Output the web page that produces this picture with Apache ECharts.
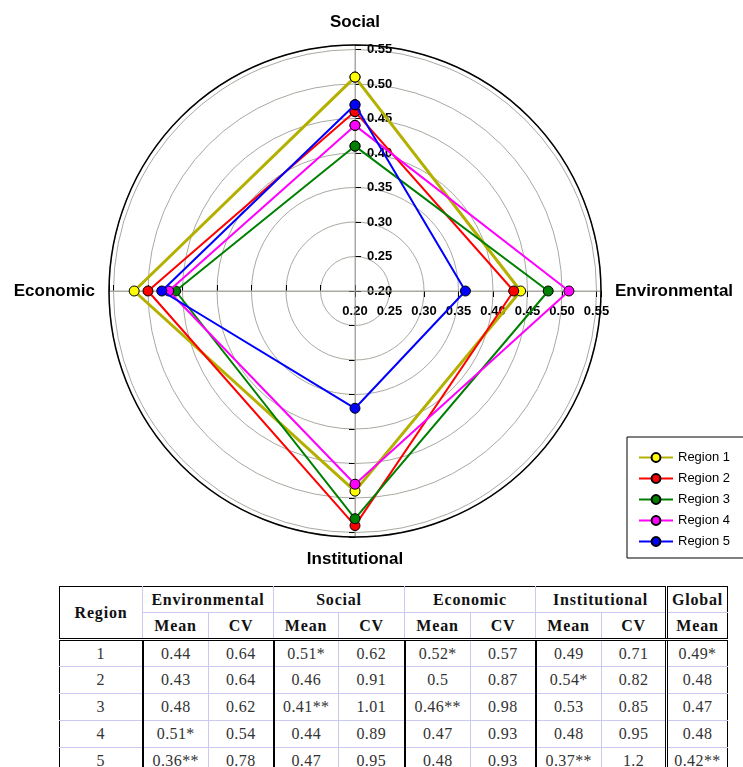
<!DOCTYPE html>
<html>
<head>
<meta charset="utf-8">
<script src="https://cdn.jsdelivr.net/npm/echarts@6/dist/echarts.min.js"></script>
<style>
  html, body { margin: 0; padding: 0; background: #fff; }
  #chart { position: absolute; left: 0; top: 0; width: 743px; height: 586px; }
  #tbl {
    position: absolute; left: 59px; top: 586px;
    border-collapse: collapse; table-layout: fixed;
    font-family: "Liberation Serif", "DejaVu Serif", serif;
    color: #222;
  }
  #tbl td, #tbl th { padding: 0; text-align: center; overflow: hidden; white-space: nowrap; }
  #tbl th { font-weight: bold; font-size: 16px; color: #111; letter-spacing: 0.8px; }
  #tbl td { font-size: 16px; letter-spacing: 0.4px; color: #333; }
</style>
</head>
<body>
<div id="chart"></div>
<table id="tbl"></table>
<script>
// Dimension names, clockwise from the top
const dimensions = ['Social', 'Environmental', 'Institutional', 'Economic'];
const regions = ['Region 1', 'Region 2', 'Region 3', 'Region 4', 'Region 5'];

// Mean and coefficient of variation per region
const envMean  = [0.44, 0.43, 0.48, 0.51, 0.36];
const envCV    = [0.64, 0.64, 0.62, 0.54, 0.78];
const socMean  = [0.51, 0.46, 0.41, 0.44, 0.47];
const socCV    = [0.62, 0.91, 1.01, 0.89, 0.95];
const ecoMean  = [0.52, 0.50, 0.46, 0.47, 0.48];
const ecoCV    = [0.57, 0.87, 0.98, 0.93, 0.93];
const instMean = [0.49, 0.54, 0.53, 0.48, 0.37];
const instCV   = [0.71, 0.82, 0.85, 0.95, 1.2];
const globalMean = [0.49, 0.48, 0.47, 0.48, 0.42];

// Significance marks attached to the means
const envSig    = ['', '', '', '*', '**'];
const socSig    = ['*', '', '**', '', ''];
const ecoSig    = ['*', '', '**', '', ''];
const instSig   = ['', '*', '', '', '**'];
const globalSig = ['*', '', '', '', '**'];

// Radial scale
const radiusMin = 0.20;
const radiusMax = 0.5565;
const radiusStep = 0.05;

const lineColors   = ['#b4b000', '#ff0000', '#008000', '#ff00ff', '#0000ff'];
const markerColors = ['#ffff00', '#ff0000', '#008000', '#ff00ff', '#0000ff'];
const lineWidths   = [3, 2, 2, 2, 2];

const gridGray = '#a9a9a2';
const CX = 355, CY = 291, R = 246;
const sans = '"Liberation Sans", Arial, sans-serif';
const angleStep = 360 / dimensions.length;

function tickLabel(v) {
  const k = Math.round((v - radiusMin) / radiusStep);
  if (Math.abs(radiusMin + k * radiusStep - v) > 1e-6) return '';
  return v.toFixed(2);
}

function angleLabel(v) {
  const k = Math.round(v / angleStep);
  return k < dimensions.length ? dimensions[k] : '';
}

function byDimension(i) {
  return [socMean[i], envMean[i], instMean[i], ecoMean[i]];
}

const series = regions.map((name, i) => {
  const vals = byDimension(i);
  const data = dimensions.map((d, j) => [vals[j], j * angleStep]);
  data.push([vals[0], 0]);
  return {
    name: name,
    type: 'line',
    coordinateSystem: 'polar',
    polarIndex: 0,
    data: data,
    symbol: 'circle',
    symbolSize: 10,
    lineStyle: { color: lineColors[i], width: lineWidths[i] },
    itemStyle: { color: markerColors[i], borderColor: '#000', borderWidth: 1 },
    z: 3 + i
  };
});

function radiusAxisBase(idx) {
  return {
    polarIndex: idx,
    type: 'value',
    min: radiusMin,
    max: radiusMax,
    interval: radiusStep,
    axisLine: { show: true, lineStyle: { color: gridGray, width: 1 } },
    axisTick: { show: true, length: -6, lineStyle: { color: '#000', width: 1 } },
    splitLine: { show: false },
    axisLabel: { show: false }
  };
}

const radiusAxes = [0, 1, 2, 3].map(radiusAxisBase);
radiusAxes[0].splitLine = { show: true, lineStyle: { color: gridGray, width: 1 } };
radiusAxes[0].axisLabel = {
  show: true, margin: -12, align: 'left', verticalAlign: 'middle',
  fontFamily: sans, fontSize: 13, fontWeight: 'bold', color: '#000',
  formatter: tickLabel
};
radiusAxes[1].axisLabel = {
  show: true, margin: -14, align: 'center', verticalAlign: 'top',
  fontFamily: sans, fontSize: 13, fontWeight: 'bold', color: '#000',
  formatter: tickLabel
};

const option = {
  animation: false,
  backgroundColor: '#fff',
  polar: [0, 1, 2, 3].map(() => ({ center: [CX, CY], radius: R })),
  angleAxis: [
    {
      polarIndex: 0,
      type: 'value',
      min: 0,
      max: 360,
      interval: angleStep,
      startAngle: 90,
      clockwise: true,
      axisLine: { show: true, lineStyle: { color: '#000', width: 1.5 } },
      axisTick: { show: false },
      axisLabel: {
        margin: 14, fontFamily: sans, fontSize: 17, fontWeight: 'bold', color: '#000',
        formatter: angleLabel
      },
      splitLine: { show: true, lineStyle: { color: gridGray, width: 1 } },
      z: 2
    },
    { polarIndex: 1, type: 'value', startAngle: 0, show: false },
    { polarIndex: 2, type: 'value', startAngle: 180, show: false },
    { polarIndex: 3, type: 'value', startAngle: 270, show: false }
  ],
  radiusAxis: radiusAxes,
  legend: {
    orient: 'vertical',
    left: 627,
    top: 437,
    itemWidth: 34,
    itemHeight: 11,
    itemGap: 8,
    padding: [14, 60, 10, 11],
    borderColor: '#000',
    borderWidth: 1,
    backgroundColor: '#fff',
    textStyle: { fontFamily: sans, fontSize: 13, color: '#000' },
    data: regions
  },
  series: series
};

const chart = echarts.init(document.getElementById('chart'), null, { renderer: 'canvas' });
chart.setOption(option);

// Summary table built from the same arrays
(function buildTable() {
  const colWidths = [83, 66, 65, 65, 66, 66, 65, 66, 65, 61];
  const lav = '1px solid #c9c9f2';
  const thick = '2px solid #000';
  const dbl = '3px double #000';
  const tbl = document.getElementById('tbl');
  let html = '<colgroup>' + colWidths.map(w => '<col style="width:' + w + 'px">').join('') + '</colgroup>';

  const groups = ['Environmental', 'Social', 'Economic', 'Institutional'];
  html += '<tr style="height:26px">';
  html += '<th rowspan="2" style="border-left:1px solid #000;border-top:1px solid #000;border-right:' + lav + ';border-bottom:' + dbl + '">Region</th>';
  groups.forEach(g => {
    html += '<th colspan="2" style="border-top:1px solid #000;border-right:' + lav + ';border-bottom:' + lav + '">' + g + '</th>';
  });
  html += '<th style="border-top:1px solid #000;border-left:' + dbl + ';border-right:1px solid #000;border-bottom:' + lav + '">Global</th>';
  html += '</tr>';
  html += '<tr style="height:27px">';
  for (let g = 0; g < 4; g++) {
    html += '<th style="border-right:' + lav + ';border-bottom:' + dbl + '">Mean</th>';
    html += '<th style="border-right:' + lav + ';border-bottom:' + dbl + '">CV</th>';
  }
  html += '<th style="border-left:' + dbl + ';border-right:1px solid #000;border-bottom:' + dbl + '">Mean</th>';
  html += '</tr>';

  const cols = [
    [envMean, envSig, envCV],
    [socMean, socSig, socCV],
    [ecoMean, ecoSig, ecoCV],
    [instMean, instSig, instCV]
  ];
  regions.forEach((r, i) => {
    html += '<tr style="height:27px">';
    html += '<td style="border-left:1px solid #000;border-right:' + thick + ';border-bottom:' + lav + '">' + (i + 1) + '</td>';
    cols.forEach(([m, s, cv]) => {
      html += '<td style="border-left:' + thick + ';border-right:' + lav + ';border-bottom:' + lav + '">' + String(m[i]) + s[i] + '</td>';
      html += '<td style="border-right:' + thick + ';border-bottom:' + lav + '">' + String(cv[i]) + '</td>';
    });
    html += '<td style="border-left:' + dbl + ';border-right:1px solid #000;border-bottom:' + lav + '">' + String(globalMean[i]) + globalSig[i] + '</td>';
    html += '</tr>';
  });
  tbl.innerHTML = html;
})();
</script>
</body>
</html>
